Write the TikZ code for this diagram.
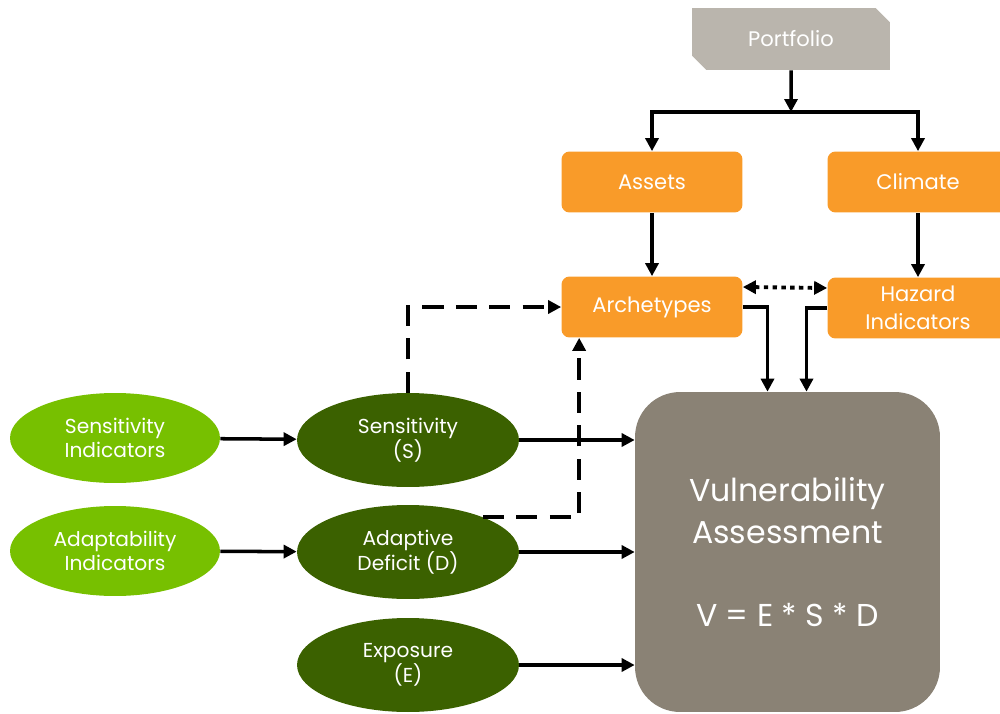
\documentclass[tikz,border=0pt]{standalone}
\usepackage{fontspec}
\setmainfont{Poppins}
\usetikzlibrary{arrows.meta, shapes.misc, shapes.geometric}
\definecolor{boxorange}{HTML}{F99B29}
\definecolor{portgray}{HTML}{BAB5AD}
\definecolor{vagray}{HTML}{8A8275}
\definecolor{lightgreen}{HTML}{77C000}
\definecolor{darkgreen}{HTML}{3B6100}
\tikzset{
  box/.style={fill=boxorange, rounded corners=0.16cm, minimum width=3.62cm,
    minimum height=1.22cm, text=white, align=center,
    font=\fontsize{12}{16}\selectfont},
  indoval/.style={ellipse, fill=lightgreen, minimum width=4.2cm,
    minimum height=1.8cm, inner sep=0pt, text=white, align=center,
    font=\fontsize{11.5}{14}\selectfont},
  factoval/.style={indoval, fill=darkgreen, minimum width=4.44cm,
    minimum height=1.88cm},
  arr/.style={line width=2pt, -{Triangle[length=0.26cm, width=0.26cm]}},
  dasharr/.style={arr, line width=2.2pt, dash pattern=on 12pt off 7pt},
  dotarr/.style={line width=2.2pt, dash pattern=on 2.5pt off 2.5pt,
    {Triangle[length=0.26cm, width=0.26cm]}-{Triangle[length=0.26cm, width=0.26cm]}}
}
\begin{document}
\begin{tikzpicture}[x=0.02cm, y=-0.02cm]
    \clip (0,0) rectangle (1000,713);
    \node(portfolio)[chamfered rectangle, chamfered rectangle corners={north east, south west},
        chamfered rectangle xsep=0.16cm, fill=portgray, minimum width=3.96cm, minimum height=1.24cm,
        text=white, font=\fontsize{12}{16}\selectfont] at (791,39) {Portfolio};
    \node(assets)[box] at (652,182) {Assets};
    \node(climate)[box] at (918,182) {Climate};
    \node(arch)[box] at (652,307) {Archetypes};
    \node(hazard)[box] at (918,308) {Hazard\\Indicators};
    \node(va)[fill=vagray, rounded corners=0.9cm, minimum width=6.1cm, minimum height=6.4cm,
        text=white, align=center, font=\fontsize{18}{24}\selectfont]
        at (787.5,552) {Vulnerability\\Assessment\\[0.8cm]V = E * S * D};
    \node(sensind)[indoval] at (115,438) {Sensitivity\\Indicators};
    \node(adaptind)[indoval] at (115,551) {Adaptability\\Indicators};
    \node(sens)[factoval] at (408,440) {Sensitivity\\(S)};
    \node(adapt)[factoval] at (408,552) {Adaptive\\Deficit (D)};
    \node(expo)[factoval] at (408,665) {Exposure\\(E)};
    \coordinate(split) at (791,112);

    % portfolio splits into assets and climate
    \draw[arr] (portfolio) -- (split);
    \draw[arr] (split) -| (assets.north);
    \draw[arr] (split) -| (climate.north);
    \draw[arr] (assets) -- (arch);
    \draw[arr] (climate) -- (hazard);
    \draw[dotarr] ([yshift=0.4cm]arch.east) -- ([yshift=0.4cm]hazard.west);
    \draw[arr] (arch.east) -| ([xshift=-0.4cm]va.north);
    \draw[arr] (hazard.west) -| ([xshift=0.38cm]va.north);

    % indicators and factors
    \draw[arr] (sensind) -- (sens);
    \draw[arr] (adaptind) -- (adapt);
    \draw[arr] (sens) -- (sens -| va.west);
    \draw[arr] (adapt) -- (adapt -| va.west);
    \draw[arr] (expo) -- (expo -| va.west);
    \draw[dasharr] (sens.north) |- (arch.west);
    \draw[dasharr] (adapt.25) -| ([xshift=0.36cm]arch.south west);
\end{tikzpicture}
\end{document}
